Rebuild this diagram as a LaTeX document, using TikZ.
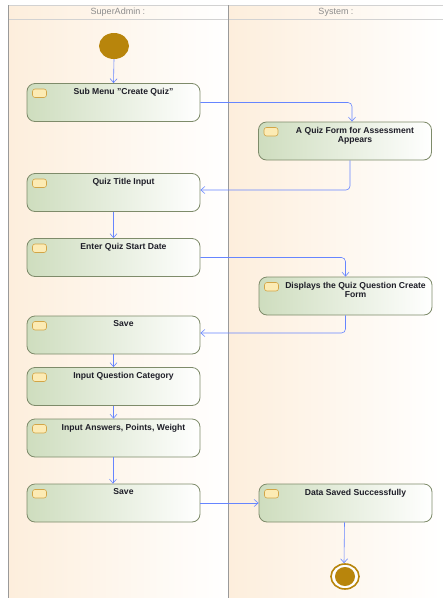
\documentclass[tikz,border=0pt]{standalone}
\usepackage{fontspec}
\setmainfont{Liberation Sans}
\usetikzlibrary{arrows.meta,shapes.geometric}

\definecolor{laneTint}{HTML}{FDEEDC}
\definecolor{frameGray}{HTML}{9A9A9A}
\definecolor{headLine}{HTML}{D2D2D2}
\definecolor{actFill}{HTML}{CEDDBE}
\definecolor{actLine}{HTML}{7E8B6A}
\definecolor{iconFill}{HTML}{FCEBB4}
\definecolor{iconLine}{HTML}{D2A547}
\definecolor{flowBlue}{HTML}{6685FF}
\definecolor{nodeGold}{HTML}{B8850C}
\definecolor{textDark}{HTML}{1E1E28}

\tikzset{
  act/.style={draw=actLine, line width=0.8pt, rounded corners=8pt,
    left color=actFill, right color=white,
    minimum width=173pt, minimum height=38pt, inner sep=0pt,
    path picture={
      \draw[iconLine, fill=iconFill, line width=0.6pt, rounded corners=2.5pt]
        ([xshift=5.5pt,yshift=-5.5pt]path picture bounding box.north west)
        rectangle ++(14pt,-8.5pt);
    }},
  lbl/.style={anchor=north, font=\fontsize{8.6}{9.6}\selectfont\bfseries,
    text=textDark, align=center, inner sep=0pt},
  head/.style={font=\fontsize{9}{10}\selectfont, text=black!45, inner sep=0pt},
  flow/.style={draw=flowBlue, line width=0.6pt, rounded corners=4pt,
    -{Straight Barb[length=4pt,width=7pt]}},
}

\begin{document}
\begin{tikzpicture}[x=1pt,y=-1pt]
\useasboundingbox (0,0) rectangle (443,598);
\fill[white] (0,0) rectangle (443,598);

% swimlanes
\shade[left color=laneTint, right color=white] (8,5) rectangle (228,598);
\shade[left color=laneTint, right color=white] (228,5) rectangle (443,598);
\draw[headLine, line width=1pt] (8,5) -- (443,5);
\draw[headLine, line width=1pt] (8,19) -- (443,19);
\draw[frameGray, line width=0.7pt] (8,5) -- (8,598);
\draw[frameGray, line width=0.7pt] (228,5) -- (228,598);
\node[head] (h1) at (118,12.5) {SuperAdmin :};
\node[head] (h2) at (336,12.5) {System :};

% start
\node[ellipse, fill=nodeGold, minimum width=30pt, minimum height=26pt, inner sep=0pt] (init) at (114,46) {};

% activities, SuperAdmin lane
\node[act] (a1) at (113.5,102.5) {};
\node[act] (a3) at (113.5,192.5) {};
\node[act] (a4) at (113.5,257.5) {};
\node[act] (a6) at (113.5,335) {};
\node[act] (a7) at (113.5,386.5) {};
\node[act] (a8) at (113.5,438) {};
\node[act] (a9) at (113.5,503) {};

% activities, System lane
\node[act] (a2) at (345,141) {};
\node[act] (a5) at (345.5,296) {};
\node[act] (a10) at (345.5,503) {};

% activity titles
\node[lbl] (t1) at ([xshift=10pt,yshift=-5pt]a1.north) {Sub Menu "Create Quiz"};
\node[lbl] (t2) at ([xshift=10pt,yshift=-5pt]a2.north) {A Quiz Form for Assessment\\Appears};
\node[lbl] (t3) at ([xshift=10pt,yshift=-5pt]a3.north) {Quiz Title Input};
\node[lbl] (t4) at ([xshift=10pt,yshift=-5pt]a4.north) {Enter Quiz Start Date};
\node[lbl] (t5) at ([xshift=10pt,yshift=-5pt]a5.north) {Displays the Quiz Question Create\\Form};
\node[lbl] (t6) at ([xshift=10pt,yshift=-5pt]a6.north) {Save};
\node[lbl] (t7) at ([xshift=10pt,yshift=-5pt]a7.north) {Input Question Category};
\node[lbl] (t8) at ([xshift=10pt,yshift=-5pt]a8.north) {Input Answers, Points, Weight};
\node[lbl] (t9) at ([xshift=10pt,yshift=-5pt]a9.north) {Save};
\node[lbl] (t10) at ([xshift=10pt,yshift=-5pt]a10.north) {Data Saved Successfully};

% end
\node[ellipse, draw=nodeGold, line width=1.6pt, fill=white, minimum width=28pt, minimum height=25pt, inner sep=0pt] (fin) at (345,576.5) {};
\node[ellipse, fill=nodeGold, minimum width=20pt, minimum height=19pt, inner sep=0pt] (finc) at (fin.center) {};

% control flows
\draw[flow] (init.south) -- (a1.north);
\draw[flow] (a1.east) -| ([xshift=7pt]a2.north);
\draw[flow] ([xshift=5pt]a2.south) |- ([yshift=2.5pt]a3.east);
\draw[flow] (a3.south) -- (a4.north);
\draw[flow] (a4.east) -| (a5.north);
\draw[flow] (a5.south) |- ([yshift=2pt]a6.east);
\draw[flow] (a6.south) -- (a7.north);
\draw[flow] (a7.south) -- (a8.north);
\draw[flow] ([xshift=-0.5pt]a8.south) -- ([xshift=-0.5pt]a9.north);
\draw[flow] (a9.east) -- (a10.west);
\draw[flow] ([xshift=-1pt]a10.south) -- ([xshift=-1pt]fin.north);
\end{tikzpicture}
\end{document}
